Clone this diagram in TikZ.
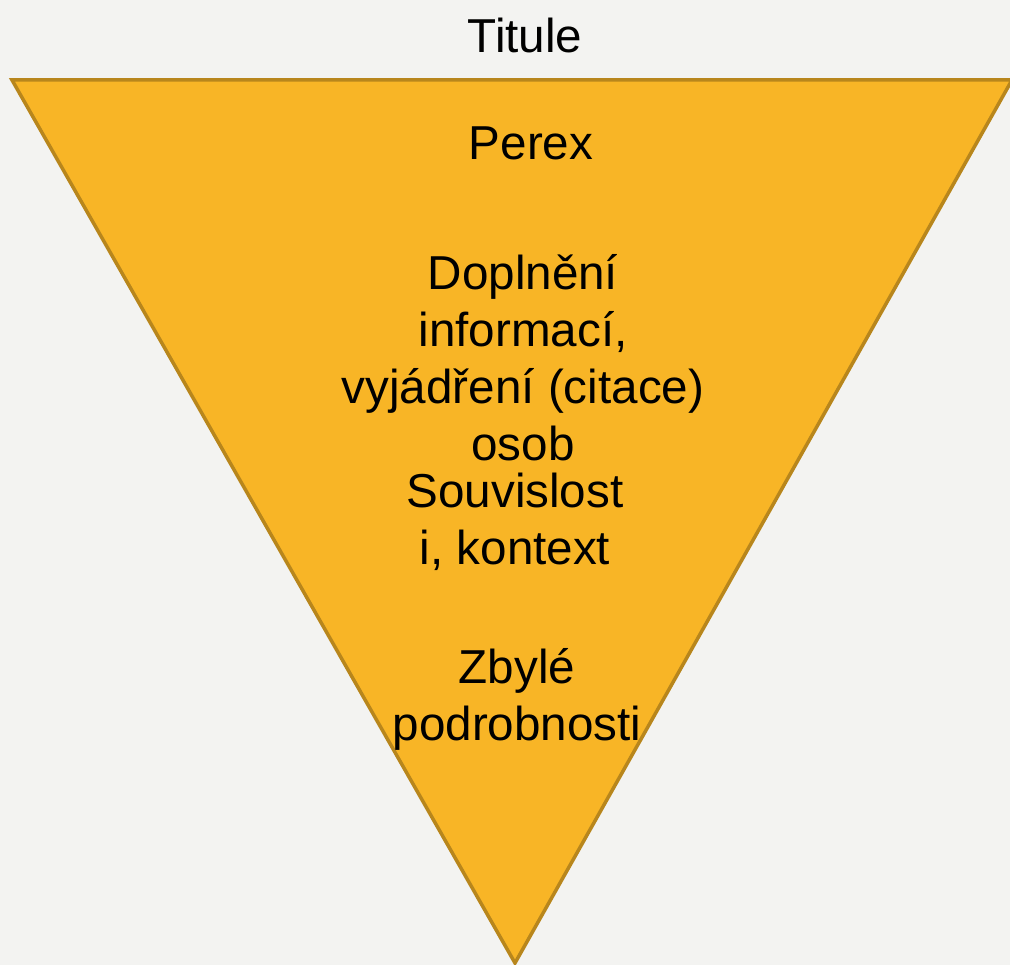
\documentclass[tikz,border=0pt]{standalone}
\usepackage{fontspec}
\setmainfont{Liberation Sans}
\definecolor{bgray}{HTML}{F3F3F1}
\definecolor{pyramid}{HTML}{F8B526}
\definecolor{pyramidline}{HTML}{B8861C}
\begin{document}
\begin{tikzpicture}[x=1pt,y=-1pt,
    lbl/.style={align=center,inner sep=0pt,font=\fontsize{47.6}{57}\selectfont}]
      \fill[bgray] (0,0) rectangle (1010,965);
      \useasboundingbox (0,0) rectangle (1010,965);
      \draw[line width=3.5pt,pyramidline,fill=pyramid,line join=miter]
        (12,80) -- (1012,80) -- (515,963) -- cycle;
      \node[lbl] (titule) at (525,35) {Titule};
      \node[lbl] (perex) at (531,143) {Perex};
      \node[lbl] (doplneni) at (523,358) {Doplnění\\informací,\\vyjádření (citace)\\osob};
      \node[lbl] (souvislosti) at (515,522) {Souvislost\\i, kontext};
      \node[lbl] (zbyle) at (517,699) {Zbylé\\podrobnosti};
    \end{tikzpicture}
\end{document}
